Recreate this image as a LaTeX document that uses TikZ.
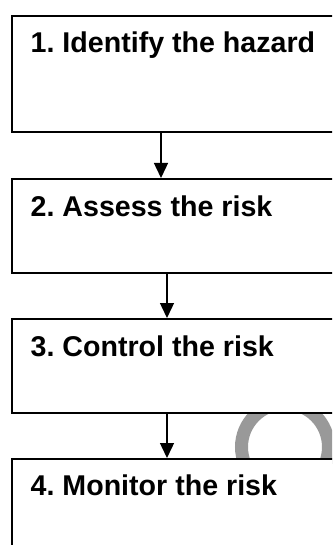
\documentclass[tikz,border=0pt]{standalone}
\usepackage{fontspec}
\setmainfont{Liberation Sans}
\frenchspacing
\usetikzlibrary{arrows.meta}
\begin{document}
\begin{tikzpicture}[x=1pt,y=-1pt,
  stepbox/.style={draw=black,line width=1.6pt,fill=white,rectangle,anchor=north west,minimum width=340pt,inner sep=0pt},
  steplabel/.style={anchor=base west,inner sep=0pt,font=\bfseries\fontsize{28.6}{32}\selectfont},
  flowarrow/.style={draw=black,line width=1.4pt,-{Triangle[width=14pt,length=15pt]}},
  ring/.style={draw=black!40,line width=13pt}
]
\useasboundingbox (0,0) rectangle (332,545);
\clip (0,0) rectangle (332,545);
\fill[white] (0,0) rectangle (332,545);
% grey ring behind the boxes
\draw[ring] (285,447) circle[radius=43.5pt];
% boxes
\node[stepbox,minimum height=116pt] (b1) at (11,15) {};
\node[stepbox,minimum height=94pt] (b2) at (11,178) {};
\node[stepbox,minimum height=94pt] (b3) at (11,318) {};
\node[stepbox,minimum height=120pt] (b4) at (11,458) {};
% labels
\node[steplabel] (t1) at (30.5,53) {1.\ Identify the hazard};
\node[steplabel] (t2) at (30.5,216) {2.\ Assess the risk};
\node[steplabel] (t3) at (30.5,356) {3.\ Control the risk};
\node[steplabel] (t4) at (30.5,495) {4.\ Monitor the risk};
% arrows
\draw[flowarrow] (b1.south -| 161,0) -- (b2.north -| 161,0);
\draw[flowarrow] (b2.south -| 167,0) -- (b3.north -| 167,0);
\draw[flowarrow] (b3.south -| 167,0) -- (b4.north -| 167,0);
\end{tikzpicture}
\end{document}
